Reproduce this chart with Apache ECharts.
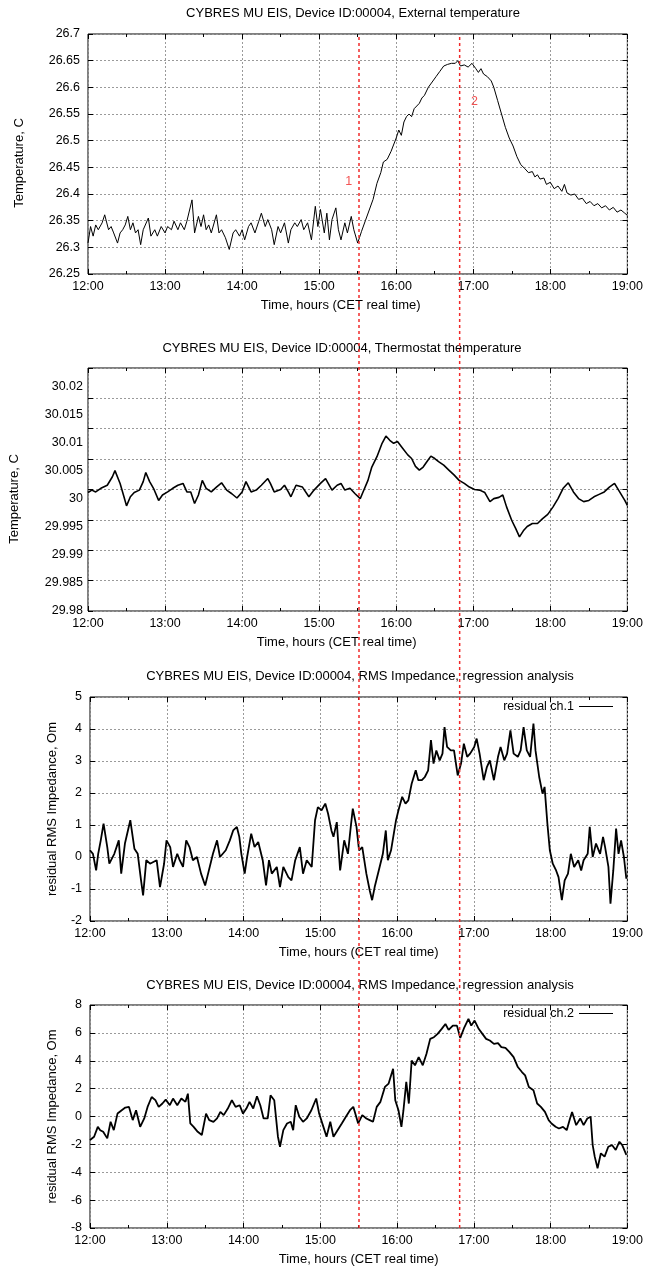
<!DOCTYPE html>
<html><head><meta charset="utf-8">
<script src="https://cdn.jsdelivr.net/npm/echarts@6/dist/echarts.min.js"></script>
<style>html,body{margin:0;padding:0;background:#fff}#c{width:646px;height:1269px}</style>
</head><body><div id="c"></div>
<script>
// ---- data (x = minutes after 12:00) ----
const panelTitles = [
  'CYBRES MU EIS, Device ID:00004, External temperature',
  'CYBRES MU EIS, Device ID:00004, Thermostat themperature',
  'CYBRES MU EIS, Device ID:00004, RMS Impedance, regression analysis',
  'CYBRES MU EIS, Device ID:00004, RMS Impedance, regression analysis'
];
const xTitle = 'Time, hours (CET real time)';
const yTitles = ['Temperature, C', 'Temperature, C', 'residual RMS Impedance, Om', 'residual RMS Impedance, Om'];
const legendNames = ['residual ch.1', 'residual ch.2'];
const yRanges = [[26.25, 26.7, 0.05], [29.98, 30.02, 0.005], [-2, 5, 1], [-8, 8, 2]];
const eventTimes = [210, 288];
const eventMarks = [[203, 26.4225, '1'], [301, 26.5725, '2']];

const extTemp = [[0,26.308],[2,26.339],[4,26.321],[6,26.342],[8,26.333],[11,26.346],[13,26.361],[16,26.333],[18,26.339],[20,26.327],[23,26.308],[25,26.327],[27,26.333],[29,26.342],[31,26.358],[33,26.333],[35,26.346],[37,26.327],[39,26.333],[41,26.305],[43,26.333],[47,26.355],[49,26.321],[52,26.333],[54,26.321],[57,26.339],[60,26.327],[62,26.339],[65,26.333],[67,26.349],[70,26.333],[72,26.346],[75,26.333],[77,26.349],[81,26.389],[83,26.327],[86,26.358],[88,26.339],[90,26.361],[92,26.333],[94,26.342],[96,26.327],[100,26.361],[102,26.327],[104,26.333],[107,26.318],[110,26.296],[113,26.327],[115,26.333],[118,26.321],[120,26.333],[122,26.314],[125,26.339],[127,26.346],[130,26.327],[133,26.349],[135,26.364],[138,26.339],[140,26.352],[143,26.333],[145,26.305],[148,26.339],[150,26.327],[153,26.346],[156,26.308],[158,26.333],[161,26.346],[163,26.339],[166,26.352],[168,26.333],[171,26.346],[174,26.314],[177,26.377],[179,26.339],[181,26.371],[184,26.327],[186,26.364],[188,26.314],[190,26.352],[193,26.374],[195,26.333],[197,26.314],[200,26.346],[202,26.327],[205,26.358],[207,26.333],[210,26.308],
[213,26.33],[216,26.35],[219,26.37],[222,26.39],[225,26.42],[228,26.44],[230,26.46],[233,26.465],[236,26.48],[240,26.505],[242,26.52],[244,26.51],[246,26.535],[248,26.545],[250,26.55],[252,26.545],[254,26.56],[256,26.565],[258,26.57],[260,26.58],[262,26.585],[265,26.6],[268,26.61],[271,26.62],[274,26.63],[277,26.64],[280,26.643],[283,26.645],[286,26.645],[288,26.65],[290,26.64],[293,26.642],[296,26.638],[299,26.645],[302,26.635],[304,26.628],[306,26.635],[308,26.625],[311,26.62],[314,26.612],[316,26.6],[319,26.575],[322,26.55],[325,26.525],[328,26.505],[331,26.49],[334,26.47],[337,26.455],[340,26.448],[343,26.44],[346,26.442],[348,26.432],[350,26.436],[352,26.428],[355,26.43],[357,26.418],[360,26.422],[363,26.41],[366,26.415],[369,26.405],[371,26.418],[373,26.402],[376,26.398],[379,26.4],[382,26.39],[385,26.392],[388,26.382],[391,26.386],[394,26.378],[397,26.382],[400,26.374],[403,26.378],[406,26.37],[409,26.375],[412,26.366],[415,26.37],[418,26.364],[420,26.36]];

const thermoTemp = [[0,29.9995],[3,29.9999],[6,29.9996],[10,30.0002],[15,30.0007],[19,30.0021],[21,30.0031],[25,30.001],[28,29.9988],[30,29.9973],[33,29.9988],[36,29.9995],[40,29.9999],[43,30.0013],[45,30.0028],[48,30.0013],[51,30.0002],[55,29.9982],[58,29.9991],[62,29.9996],[66,30.0002],[70,30.0007],[74,30.001],[77,29.9996],[80,29.9996],[83,29.9977],[86,29.9991],[89,30.0015],[92,30.0002],[96,29.9996],[100,30.0004],[104,30.0011],[108,29.9999],[112,29.9993],[116,29.9986],[120,29.9996],[123,30.0013],[127,29.9996],[131,29.9999],[135,30.0007],[140,30.0018],[142,30.001],[145,29.9996],[150,30.0],[153,30.0007],[156,29.9996],[158,29.9988],[162,30.0007],[167,30.0004],[172,29.9988],[176,29.9999],[181,30.001],[185,30.0018],[190,29.9999],[194,30.0007],[197,30.001],[200,29.9999],[204,30.0002],[208,29.9993],[212,29.9985],[214,29.9995],[218,30.0015],[221,30.0037],[225,30.0054],[229,30.0076],[232,30.0088],[235,30.0081],[238,30.0076],[241,30.0079],[245,30.0068],[249,30.0057],[252,30.0051],[255,30.0038],[258,30.0032],[261,30.0037],[264,30.0046],[267,30.0055],[270,30.0051],[273,30.0046],[277,30.004],[281,30.0032],[285,30.0024],[289,30.0015],[293,30.001],[297,30.0004],[301,30.0],[305,29.9999],[309,29.9995],[313,29.998],[316,29.9985],[320,29.9987],[323,29.9991],[326,29.9971],[330,29.9949],[333,29.9936],[336,29.9922],[339,29.9932],[342,29.9939],[346,29.9944],[350,29.9944],[354,29.9952],[358,29.9959],[362,29.9971],[366,29.9985],[370,30.0002],[374,30.0011],[378,29.9996],[382,29.9985],[386,29.998],[390,29.9982],[394,29.9988],[398,29.9992],[402,29.9996],[406,30.0004],[410,30.001],[414,29.9996],[418,29.9982],[420,29.9974]];

const resid1 = [[0,0.21],[2.3,0.10],[4.8,-0.42],[6.4,0.10],[8.4,0.52],[10.6,1.04],[13.5,0.31],[15.1,-0.21],[19,0.10],[22.5,0.52],[24.4,-0.52],[27.3,0.42],[31.5,1.15],[34.7,0.26],[37.3,0.10],[39.9,-0.73],[41.5,-1.2],[44,-0.10],[46.9,-0.21],[52.1,-0.10],[54.7,-0.94],[57.9,-0.21],[59.8,0.52],[62.7,0.31],[64.9,-0.31],[68.2,0.10],[70.1,-0.10],[72.7,-0.31],[75.2,0.52],[77.8,0.31],[80.4,-0.10],[83.6,0.0],[86.8,-0.52],[90,-0.89],[92.3,-0.52],[96.1,0.10],[99.3,0.52],[101.6,0.0],[106.1,0.21],[109.3,0.52],[111.9,0.83],[114.8,0.94],[116.7,0.63],[118.3,0.10],[120.9,-0.52],[122.8,0.0],[126,0.73],[128.6,0.31],[131.5,0.47],[135,-0.10],[137.6,-0.89],[139.9,-0.10],[142.1,-0.52],[146,-0.31],[148.5,-0.94],[151.1,-0.31],[155,-0.63],[157.5,-0.73],[160.4,-0.10],[164,0.31],[166.5,-0.52],[169.4,-0.10],[173.3,-0.31],[175.9,1.15],[178.1,1.56],[181,1.46],[183.9,1.67],[186.1,1.35],[188.7,0.83],[190.3,0.63],[192.9,1.09],[195.5,-0.42],[198.7,0.52],[201.6,0.10],[203.8,0.94],[205.4,1.51],[208.3,0.94],[210.3,0.21],[212.8,0.31],[216,-0.52],[218.6,-1.04],[220.5,-1.35],[222.5,-0.94],[225.7,-0.42],[228.9,0.10],[231.2,0.83],[232.8,-0.10],[235.3,0.21],[239.2,1.15],[241.1,1.46],[244,1.88],[246.6,1.67],[248.8,1.77],[251.4,2.29],[254.6,2.71],[256.6,2.40],[259.4,2.40],[261.7,2.50],[264.3,2.71],[266.5,3.65],[268.5,2.92],[270.7,3.33],[273.3,3.02],[275.5,3.23],[277.1,4.06],[279.1,3.44],[282,3.33],[284.5,3.33],[287.4,2.55],[290,2.92],[292.2,3.54],[294.8,3.13],[297.1,3.23],[300.3,3.44],[302.2,3.70],[304.5,3.23],[307.7,2.40],[310.2,2.81],[312.5,3.02],[315.7,2.40],[318.9,3.13],[320.9,3.44],[323.8,3.02],[326,3.23],[328.6,3.96],[331.1,3.23],[334.4,3.13],[336.6,3.33],[338.9,4.06],[341.4,3.33],[344,3.13],[346.6,4.17],[348.2,3.33],[351.1,2.50],[353.7,1.98],[355.3,2.19],[357.5,1.04],[359.4,0.21],[361.7,-0.21],[364.3,-0.42],[366.2,-0.63],[368.8,-1.35],[371,-0.73],[373.6,-0.52],[375.8,0.10],[378.4,-0.31],[381.6,-0.10],[383.9,-0.42],[385.8,-0.10],[389,0.10],[390.6,0.94],[392.9,0.0],[395.5,0.42],[398.7,0.10],[401,0.63],[402.6,0.31],[405.2,-0.31],[406.8,-1.46],[409,-0.42],[411.2,0.89],[413.1,0.10],[415.1,0.52],[417.3,0.0],[419.2,-0.68]];

const resid2 = [[0,-1.69],[3.2,-1.45],[6.1,-0.74],[8,-0.98],[10.3,-1.10],[13.5,-1.57],[16.1,-0.38],[18.6,-0.98],[21.5,0.21],[24.8,0.45],[27.6,0.64],[30.5,0.69],[33.4,-0.26],[36,0.45],[39.2,-0.74],[42.4,-0.14],[45,0.69],[48.2,1.40],[51.1,1.17],[53.7,0.69],[56.6,0.93],[59.2,1.21],[62.4,0.81],[64.9,1.29],[68.2,0.81],[71.4,1.29],[74.6,1.05],[76.5,1.64],[78.4,-0.50],[81,-0.74],[84.2,-1.10],[87.4,-1.33],[90.7,0.21],[93.2,-0.26],[96.5,-0.38],[99.3,-0.14],[101.9,0.33],[104.5,0.10],[107.7,0.57],[110.9,1.17],[113.8,0.69],[117,0.81],[119.6,0.21],[122.2,0.57],[124.7,1.05],[127.6,0.57],[130.5,1.45],[133.1,0.81],[135.7,-0.14],[138.9,-0.14],[141.1,1.52],[144,1.17],[146.9,-1.45],[148.5,-2.17],[151.1,-0.98],[154,-0.50],[156.9,-0.38],[158.8,-0.98],[160.8,0.81],[163.6,-0.02],[166.5,-0.38],[169.4,-0.14],[173,0.45],[176.8,1.29],[179.1,0.21],[182,-0.62],[184.9,-1.45],[187.8,-0.38],[190.3,-1.45],[193.5,-0.98],[196.8,-0.50],[200,-0.02],[203.2,0.45],[205.8,0.69],[207,0.33],[209.6,-0.50],[212.8,0.10],[216,-0.14],[218.6,-0.26],[221.2,-0.38],[224.1,0.69],[227,1.05],[230.5,2.12],[233.4,2.36],[236.9,3.43],[238.6,1.17],[241.1,0.45],[243.4,-0.74],[245,0.45],[247.2,2.48],[249.2,0.93],[251.4,4.02],[254,3.67],[256.9,4.26],[260.1,3.67],[263,4.50],[265.9,5.57],[268.8,5.69],[271.7,5.93],[274.9,6.29],[277.8,6.64],[280.3,6.21],[283.6,6.52],[286.8,6.52],[289.4,5.64],[292.6,6.40],[295.8,7.00],[298,6.52],[300.6,6.88],[303.8,6.29],[306.7,5.93],[309.6,5.57],[312.5,5.45],[315.7,5.21],[318.9,5.26],[321.5,4.98],[324.7,4.93],[327.9,4.62],[331.1,4.26],[334.4,3.55],[337.6,3.19],[340.1,2.95],[343,2.12],[346.6,1.88],[349.5,0.93],[352.4,0.69],[355.6,0.33],[358.5,-0.26],[360.7,-0.50],[363.9,-0.74],[366.5,-0.86],[369.7,-0.74],[372.6,-0.98],[375.2,-0.14],[376.8,0.33],[380,-0.62],[383.2,-0.14],[385.8,-0.62],[388.7,-0.14],[391.3,-0.02],[392.9,-2.05],[394.5,-2.88],[396.7,-3.71],[399.3,-2.64],[402.2,-2.88],[405.1,-2.17],[408,-2.05],[410.9,-2.40],[413.8,-1.81],[416,-2.05],[419.2,-2.76]];

// ---- layout & style ----
const FONT = 'Liberation Sans, Arial, sans-serif';
const RED = '#f02828';
const grids = [
  {left: 88, right: 16, top: 34, height: 240},
  {left: 88, right: 16, top: 368, height: 243},
  {left: 90, right: 17, top: 697, height: 224},
  {left: 90, right: 17, top: 1005, height: 223},
  {left: 88, right: 16, top: 34, height: 1194},
  {left: 88, right: 16, top: 387, height: 224}
];
const titlePos = [[353, 5], [342, 340], [360, 668], [360, 977]];
const xNamePad = [[0, 34, 0, 0], [0, 42, 0, 0], [0, 0, 0, 0], [0, 0, 0, 0]];
const yNameGap = [62, 70, 31, 31];
const yNamePad = [[0, 18, 0, 0], [0, 0, 0, 0], [0, 0, 0, 0], [0, 0, 0, 0]];
const legendTop = [700, 1007];
const lineWidths = [1, 1.6, 1.8, 1.8];
const seriesData = [extTemp, thermoTemp, resid1, resid2];

const fmtY = v => String(+v.toFixed(4));
const fmtX = v => (12 + Math.round(v / 60)) + ':00';
const gridLine = {show: true, lineStyle: {color: '#9a9a9a', type: [2, 2], width: 1}};
const tickIn = {show: true, inside: true, length: 5, lineStyle: {color: '#000', width: 1}};
const minorIn = {show: true, splitNumber: 2, length: 3, lineStyle: {color: '#000', width: 1}};

const xAxes = [], yAxes = [], series = [], titles = [];
for (let i = 0; i < 4; i++) {
  const [ymin, ymax, yint] = yRanges[i];
  xAxes.push({
    gridIndex: i, type: 'value', min: 0, max: 420, interval: 60, position: 'bottom',
    axisLine: {show: false, onZero: false},
    axisTick: tickIn, minorTick: minorIn,
    axisLabel: {formatter: fmtX, margin: 6, color: '#000', fontSize: 12.5, fontFamily: FONT},
    splitLine: gridLine,
    name: xTitle, nameLocation: 'middle', nameGap: 25,
    nameTextStyle: {color: '#000', fontSize: 13, fontFamily: FONT, padding: xNamePad[i]}
  });
  yAxes.push({
    gridIndex: i, type: 'value', min: ymin, max: ymax, interval: yint, position: 'left',
    axisLine: {show: false, onZero: false},
    axisTick: tickIn,
    axisLabel: {show: i !== 1, formatter: fmtY, margin: 8, color: '#000', fontSize: 12.5, fontFamily: FONT},
    splitLine: gridLine,
    name: i === 1 ? '' : yTitles[i], nameLocation: 'middle', nameGap: yNameGap[i], nameRotate: 90,
    nameTextStyle: {color: '#000', fontSize: 13, fontFamily: FONT, padding: yNamePad[i]}
  });
  titles.push({
    text: panelTitles[i], left: titlePos[i][0], top: titlePos[i][1], textAlign: 'center', padding: 0,
    textStyle: {color: '#000', fontSize: 13, fontWeight: 'normal', fontFamily: FONT, lineHeight: 16}
  });
}
// mirrored top / right ticks
for (let i = 0; i < 4; i++) {
  const [ymin, ymax, yint] = yRanges[i];
  xAxes.push({
    gridIndex: i, type: 'value', min: 0, max: 420, interval: 60, position: 'top',
    axisLine: {show: false, onZero: false}, axisLabel: {show: false}, splitLine: {show: false},
    axisTick: tickIn, minorTick: minorIn
  });
  yAxes.push({
    gridIndex: i, type: 'value', min: ymin, max: ymax, interval: yint, position: 'right',
    axisLine: {show: false, onZero: false}, axisLabel: {show: false}, splitLine: {show: false},
    axisTick: tickIn
  });
}
// overlay grid for the event lines
xAxes.push({gridIndex: 4, type: 'value', min: 0, max: 420, show: false});
yAxes.push({gridIndex: 4, type: 'value', min: 0, max: 1, show: false});
// label axis for panel 2
xAxes.push({gridIndex: 5, type: 'value', min: 0, max: 420, show: false});
yAxes.push({
  gridIndex: 5, type: 'value', min: yRanges[1][0], max: yRanges[1][1], interval: yRanges[1][2],
  axisLine: {show: false, onZero: false}, axisTick: {show: false}, splitLine: {show: false},
  axisLabel: {formatter: fmtY, margin: 8, color: '#000', fontSize: 12.5, fontFamily: FONT},
  name: yTitles[1], nameLocation: 'middle', nameGap: yNameGap[1], nameRotate: 90,
  nameTextStyle: {color: '#000', fontSize: 13, fontFamily: FONT}
});

for (let i = 0; i < 4; i++) {
  series.push({
    type: 'line', name: i >= 2 ? legendNames[i - 2] : 'p' + i,
    xAxisIndex: i, yAxisIndex: i, data: seriesData[i],
    showSymbol: false, symbol: 'none', color: '#000',
    lineStyle: {color: '#000', width: lineWidths[i]}, z: 3
  });
}
series.push({
  type: 'scatter', xAxisIndex: 0, yAxisIndex: 0, symbolSize: 0,
  data: eventMarks.map(m => ({value: [m[0], m[1]], label: {formatter: m[2]}})),
  label: {show: true, position: 'inside', color: RED, fontSize: 12.5, fontFamily: FONT},
  z: 5, silent: true
});
eventTimes.forEach((t, k) => {
  series.push({
    type: 'line', name: 'event' + k, xAxisIndex: 8, yAxisIndex: 8, data: [[t, 0], [t, 1]],
    showSymbol: false, symbol: 'none', color: RED, itemStyle: {color: RED},
    lineStyle: {color: RED, type: [3, 3], width: 1.5}, z: 10 + k, silent: true
  });
});

const option = {
  animation: false,
  backgroundColor: '#fff',
  title: titles,
  grid: grids.map((g, i) => Object.assign({show: i < 4, borderColor: '#000', borderWidth: 1, containLabel: false}, g)),
  xAxis: xAxes,
  yAxis: yAxes,
  legend: [0, 1].map(k => ({
    data: [legendNames[k]], right: 33, top: legendTop[k], padding: 0, align: 'right',
    icon: 'rect', itemWidth: 34, itemHeight: 1.2, itemStyle: {color: '#000'},
    textStyle: {color: '#000', fontSize: 12.5, fontFamily: FONT}, selectedMode: false
  })),
  series: series
};
const chart = echarts.init(document.getElementById('c'), null, {renderer: 'canvas'});
chart.setOption(option);
</script></body></html>
